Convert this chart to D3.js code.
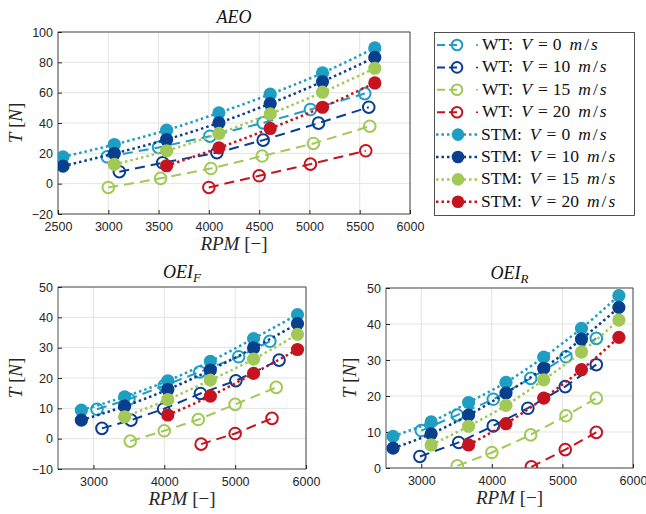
<!DOCTYPE html>
<html>
<head>
<meta charset="utf-8">
<script src="https://cdn.jsdelivr.net/npm/d3@7"></script>
<style>
  html, body { margin: 0; padding: 0; background: #fff; }
</style>
</head>
<body>
<div id="vis"></div>
<script>
var serif = "'Liberation Serif', 'DejaVu Serif', 'Times New Roman', serif"
var sans = "'Liberation Sans', Arial, 'DejaVu Sans', sans-serif"

// colours of the four wind speeds
var colors = ["#1f9ec4", "#0a3f8e", "#a2c955", "#c5141f"]
var speeds = [0, 10, 15, 20]

// ---- AEO ----
var aeoStmRpm = [2550, 3060, 3580, 4100, 4610, 5130, 5650]
var aeoStm0 = [17.7, 25.8, 35.3, 46.7, 59.0, 73.0, 89.5]
var aeoStm10 = [11.6, 19.9, 29.1, 40.1, 52.8, 67.3, 83.3]
var aeoStm15 = [null, 12.7, 21.7, 33.1, 46.0, 60.3, 76.1]
var aeoStm20 = [null, null, 11.8, 23.6, 36.4, 50.4, 66.4]
var aeoWt0Rpm = [2990, 3500, 4010, 4540, 5010, 5550]
var aeoWt0 = [17.7, 23.9, 31.3, 40.1, 48.9, 59.4]
var aeoWt10Rpm = [3110, 3540, 4080, 4540, 5090, 5590]
var aeoWt10 = [7.9, 13.8, 20.4, 28.7, 39.9, 50.4]
var aeoWt15Rpm = [3000, 3520, 4020, 4530, 5040, 5600]
var aeoWt15 = [-2.5, 3.5, 10.0, 18.2, 26.5, 37.9]
var aeoWt20Rpm = [4000, 4500, 5010, 5560]
var aeoWt20 = [-2.5, 5.2, 12.9, 21.7]

// ---- OEI_F ----
var oeifStmRpm = [2830, 3440, 4050, 4650, 5260, 5880]
var oeifStm0 = [9.4, 13.8, 19.1, 25.5, 33.0, 40.9]
var oeifStm10 = [6.1, 10.7, 16.2, 22.6, 29.9, 37.9]
var oeifStm15 = [null, 7.2, 12.9, 19.3, 26.2, 34.4]
var oeifStm20 = [null, null, 7.8, 14.0, 21.5, 29.4]
var oeifWt0Rpm = [3050, 3500, 4000, 4500, 5050, 5490]
var oeifWt0 = [9.7, 13.0, 17.5, 22.0, 27.0, 32.1]
var oeifWt10Rpm = [3120, 3530, 3990, 4510, 5010, 5620]
var oeifWt10 = [3.4, 6.1, 9.8, 14.9, 19.1, 25.9]
var oeifWt15Rpm = [3520, 4000, 4480, 5000, 5580]
var oeifWt15 = [-0.8, 2.6, 6.3, 11.3, 16.9]
var oeifWt20Rpm = [4520, 5000, 5520]
var oeifWt20 = [-1.8, 1.7, 6.7]

// ---- OEI_R ----
var oeirStmRpm = [2600, 3140, 3670, 4200, 4735, 5270, 5800]
var oeirStm0 = [8.8, 12.8, 18.2, 23.8, 30.8, 38.8, 47.9]
var oeirStm10 = [5.5, 9.5, 14.7, 20.8, 27.7, 35.8, 44.6]
var oeirStm15 = [null, 6.4, 11.6, 17.4, 24.5, 32.2, 41.1]
var oeirStm20 = [null, null, 6.4, 12.3, 19.4, 27.3, 36.3]
var oeirWt0Rpm = [3000, 3510, 4020, 4550, 5050, 5480]
var oeirWt0 = [10.4, 14.7, 19.1, 24.9, 30.9, 36.0]
var oeirWt10Rpm = [2980, 3530, 4020, 4510, 5040, 5480]
var oeirWt10 = [3.2, 7.1, 11.7, 16.6, 22.6, 28.7]
var oeirWt15Rpm = [3510, 4000, 4550, 5050, 5480]
var oeirWt15 = [0.6, 4.3, 9.2, 14.5, 19.4]
var oeirWt20Rpm = [4560, 5040, 5480]
var oeirWt20 = [0.3, 5.1, 9.9]

var svg = d3.select("#vis").append("svg")
    .attr("width", 646)
    .attr("height", 514)

function zip(xs, ys) {
    var out = []
    xs.forEach(function (x, i) { if (ys[i] != null) out.push([x, ys[i]]) })
    return out
}

function drawPanel(cfg) {
    var x = d3.scaleLinear().domain(cfg.xDomain).range([cfg.left, cfg.right])
    var y = d3.scaleLinear().domain(cfg.yDomain).range([cfg.bottom, cfg.top])
    var g = svg.append("g")

    g.append("clipPath").attr("id", cfg.id + "-clip")
        .append("rect")
        .attr("x", cfg.left).attr("y", cfg.top)
        .attr("width", cfg.right - cfg.left).attr("height", cfg.bottom - cfg.top)

    // grid
    g.append("g").selectAll("line").data(cfg.xTicks).enter().append("line")
        .attr("x1", function (d) { return x(d) }).attr("x2", function (d) { return x(d) })
        .attr("y1", cfg.top).attr("y2", cfg.bottom)
        .attr("stroke", "#e3e3e3").attr("stroke-width", 1)
    g.append("g").selectAll("line").data(cfg.yTicks).enter().append("line")
        .attr("y1", function (d) { return y(d) }).attr("y2", function (d) { return y(d) })
        .attr("x1", cfg.left).attr("x2", cfg.right)
        .attr("stroke", "#e3e3e3").attr("stroke-width", 1)

    // axes
    g.append("g").attr("transform", "translate(0," + cfg.bottom + ")")
        .call(d3.axisBottom(x).tickValues(cfg.xTicks).tickFormat(d3.format("d"))
            .tickSizeInner(-4).tickSizeOuter(0).tickPadding(8))
    g.append("g").attr("transform", "translate(" + cfg.left + ",0)")
        .call(d3.axisLeft(y).tickValues(cfg.yTicks).tickFormat(d3.format("d"))
            .tickSizeInner(-4).tickSizeOuter(0).tickPadding(5))
    g.selectAll(".domain").remove()
    g.selectAll(".tick line").attr("stroke", "#262626")
    g.selectAll(".tick text").attr("fill", "#262626")
        .attr("font-family", sans).attr("font-size", 12.5)

    g.append("rect")
        .attr("x", cfg.left).attr("y", cfg.top)
        .attr("width", cfg.right - cfg.left).attr("height", cfg.bottom - cfg.top)
        .attr("fill", "none").attr("stroke", "#262626").attr("stroke-width", 0.8)

    var line = d3.line().x(function (d) { return x(d[0]) }).y(function (d) { return y(d[1]) })
    var curve = d3.line().curve(d3.curveMonotoneX)
        .x(function (d) { return x(d[0]) }).y(function (d) { return y(d[1]) })
    var plot = g.append("g").attr("clip-path", "url(#" + cfg.id + "-clip)")

    // wind tunnel: dashed + open circles
    cfg.wt.forEach(function (s, i) {
        var pts = zip(s[0], s[1])
        plot.append("path").attr("d", line(pts))
            .attr("fill", "none").attr("stroke", colors[i])
            .attr("stroke-width", 2).attr("stroke-dasharray", "10,6")
        plot.selectAll(null).data(pts).enter().append("circle")
            .attr("cx", function (d) { return x(d[0]) }).attr("cy", function (d) { return y(d[1]) })
            .attr("r", 5.8).attr("fill", "none")
            .attr("stroke", colors[i]).attr("stroke-width", 2)
    })
    // STM: dotted + filled circles
    cfg.stm.forEach(function (s, i) {
        var pts = zip(cfg.stmRpm, s)
        plot.append("path").attr("d", curve(pts))
            .attr("fill", "none").attr("stroke", colors[i])
            .attr("stroke-width", 2.5).attr("stroke-dasharray", "2.5,3")
        plot.selectAll(null).data(pts).enter().append("circle")
            .attr("cx", function (d) { return x(d[0]) }).attr("cy", function (d) { return y(d[1]) })
            .attr("r", 6.6).attr("fill", colors[i])
    })

    // title
    var t = g.append("text").attr("font-family", serif).attr("fill", "#111")
        .attr("x", (cfg.left + cfg.right) / 2).attr("y", cfg.top - 9)
        .attr("text-anchor", "middle").attr("font-size", 18).attr("font-style", "italic")
    t.append("tspan").text(cfg.title)
    if (cfg.sub) t.append("tspan").attr("font-size", 13).attr("dy", 4).text(cfg.sub)

    // x label
    var xl = g.append("text").attr("font-family", serif).attr("fill", "#262626")
        .attr("x", (cfg.left + cfg.right) / 2).attr("y", cfg.bottom + 36)
        .attr("text-anchor", "middle").attr("font-size", 19)
    xl.append("tspan").attr("font-style", "italic").text("RPM")
    xl.append("tspan").text(" [\u2212]")

    // y label
    var yl = g.append("text").attr("font-family", serif).attr("fill", "#262626")
        .attr("transform", "translate(" + cfg.yLabelX + "," + (cfg.top + cfg.bottom) / 2 + ") rotate(-90)")
        .attr("text-anchor", "middle").attr("font-size", 19)
    yl.append("tspan").attr("font-style", "italic").text("T")
    yl.append("tspan").text(" [")
    yl.append("tspan").attr("font-style", "italic").text("N")
    yl.append("tspan").text("]")
}

drawPanel({
    id: "aeo", title: "AEO",
    left: 58, right: 410, top: 32, bottom: 214, yLabelX: 22,
    xDomain: [2500, 6000], yDomain: [-20, 100],
    xTicks: [2500, 3000, 3500, 4000, 4500, 5000, 5500, 6000],
    yTicks: [-20, 0, 20, 40, 60, 80, 100],
    stmRpm: aeoStmRpm,
    stm: [aeoStm0, aeoStm10, aeoStm15, aeoStm20],
    wt: [[aeoWt0Rpm, aeoWt0], [aeoWt10Rpm, aeoWt10], [aeoWt15Rpm, aeoWt15], [aeoWt20Rpm, aeoWt20]]
})

drawPanel({
    id: "oeif", title: "OEI", sub: "F",
    left: 58, right: 306, top: 287, bottom: 469, yLabelX: 22,
    xDomain: [2500, 6000], yDomain: [-10, 50],
    xTicks: [3000, 4000, 5000, 6000],
    yTicks: [-10, 0, 10, 20, 30, 40, 50],
    stmRpm: oeifStmRpm,
    stm: [oeifStm0, oeifStm10, oeifStm15, oeifStm20],
    wt: [[oeifWt0Rpm, oeifWt0], [oeifWt10Rpm, oeifWt10], [oeifWt15Rpm, oeifWt15], [oeifWt20Rpm, oeifWt20]]
})

drawPanel({
    id: "oeir", title: "OEI", sub: "R",
    left: 386, right: 633, top: 288, bottom: 468, yLabelX: 356,
    xDomain: [2500, 6000], yDomain: [0, 50],
    xTicks: [3000, 4000, 5000, 6000],
    yTicks: [0, 10, 20, 30, 40, 50],
    stmRpm: oeirStmRpm,
    stm: [oeirStm0, oeirStm10, oeirStm15, oeirStm20],
    wt: [[oeirWt0Rpm, oeirWt0], [oeirWt10Rpm, oeirWt10], [oeirWt15Rpm, oeirWt15], [oeirWt20Rpm, oeirWt20]]
})

// legend
var leg = svg.append("g")
leg.append("rect").attr("x", 434.5).attr("y", 32.5).attr("width", 200).attr("height", 183)
    .attr("fill", "#fff").attr("stroke", "#262626").attr("stroke-width", 0.8)

var rowY0 = 45, rowDy = 22.4
var rows = []
speeds.forEach(function (v, i) { rows.push({ kind: "WT", v: v, c: colors[i] }) })
speeds.forEach(function (v, i) { rows.push({ kind: "STM", v: v, c: colors[i] }) })

rows.forEach(function (r, i) {
    var yy = rowY0 + i * rowDy
    if (r.kind === "WT") {
        leg.append("line").attr("x1", 437).attr("x2", 457).attr("y1", yy).attr("y2", yy)
            .attr("stroke", r.c).attr("stroke-width", 2).attr("stroke-dasharray", "8,4")
        leg.append("circle").attr("cx", 457).attr("cy", yy).attr("r", 5.3)
            .attr("fill", "none").attr("stroke", r.c).attr("stroke-width", 2)
        leg.append("line").attr("x1", 476).attr("x2", 478).attr("y1", yy).attr("y2", yy)
            .attr("stroke", r.c).attr("stroke-width", 1.5)
    } else {
        leg.append("line").attr("x1", 436).attr("x2", 480).attr("y1", yy).attr("y2", yy)
            .attr("stroke", r.c).attr("stroke-width", 2.5).attr("stroke-dasharray", "2.5,3")
        leg.append("circle").attr("cx", 458).attr("cy", yy).attr("r", 6.3).attr("fill", r.c)
    }
    var t = leg.append("text").attr("font-family", serif).attr("fill", "#111")
        .attr("x", r.kind === "WT" ? 482 : 481).attr("y", yy + 5).attr("font-size", 17.5)
    t.append("tspan").text(r.kind + ":")
    t.append("tspan").attr("font-style", "italic").attr("dx", 8).text("V")
    t.append("tspan").attr("dx", 6).text("=")
    t.append("tspan").attr("dx", 5).text(r.v)
    t.append("tspan").attr("font-style", "italic").attr("dx", 8).text("m")
    t.append("tspan").attr("dx", 2).text("/")
    t.append("tspan").attr("font-style", "italic").attr("dx", 2).text("s")
})
</script>
</body>
</html>
